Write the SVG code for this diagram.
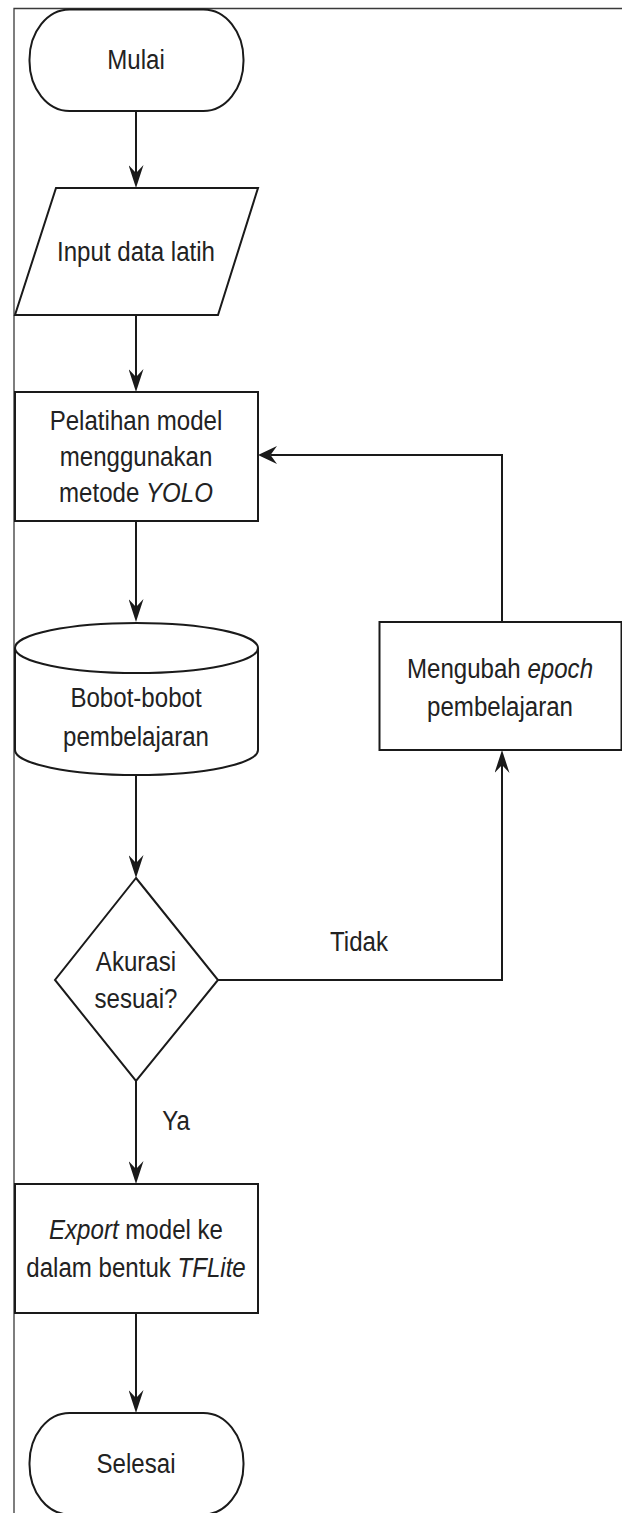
<svg xmlns="http://www.w3.org/2000/svg" width="622" height="1513" viewBox="0 0 622 1513">
<style>
.shape{fill:#ffffff;stroke:#1a1a1a;stroke-width:2}
.conn{fill:none;stroke:#1a1a1a;stroke-width:2}
.frame{fill:none;stroke:#3a3a3a;stroke-width:1.3}
.t{font-family:"Liberation Sans",Arial,Helvetica,sans-serif;font-size:28px;fill:#222222;text-anchor:middle}
.i{font-style:italic}
</style>
<defs>
<marker id="arrV" markerUnits="userSpaceOnUse" viewBox="0 0 23 15" markerWidth="23" markerHeight="15" refX="8" refY="7.5" orient="auto">
<path d="M23,7.5 L0,0 L8,7.5 L0,15 Z" fill="#1a1a1a"/>
</marker>
<marker id="arrH" markerUnits="userSpaceOnUse" viewBox="0 0 19 18" markerWidth="19" markerHeight="18" refX="6.5" refY="9" orient="auto">
<path d="M19,9 L0,0 L6.5,9 L0,18 Z" fill="#1a1a1a"/>
</marker>
</defs>
<rect width="622" height="1513" fill="#ffffff"/>
<path class="frame" d="M14,1513 V8.5 H622"/>
<g id="connectors">
<path class="conn" d="M136,111 V173" marker-end="url(#arrV)"/>
<path class="conn" d="M136,315 V377" marker-end="url(#arrV)"/>
<path class="conn" d="M136,521 V607" marker-end="url(#arrV)"/>
<path class="conn" d="M136,775 V863" marker-end="url(#arrV)"/>
<path class="conn" d="M136,1081 V1169" marker-end="url(#arrV)"/>
<path class="conn" d="M136,1313 V1398" marker-end="url(#arrV)"/>
<path class="conn" d="M218,980 H502 V765" marker-end="url(#arrV)"/>
<path class="conn" d="M502,622 V455 H270.5" marker-end="url(#arrH)"/>
<text class="t" transform="translate(359,0) scale(0.86,1)" x="0" y="951">Tidak</text>
<text class="t" transform="translate(176,0) scale(0.86,1)" x="0" y="1130">Ya</text>
</g>
<g id="mulai">
<rect class="shape" x="29.5" y="9.5" width="214" height="101.5" rx="40" ry="50"/>
<text class="t" transform="translate(136,0) scale(0.86,1)" x="0" y="69.5">Mulai</text>
</g>
<g id="input">
<polygon class="shape" points="56,188 258,188 218,315 15,315"/>
<text class="t" transform="translate(136,0) scale(0.86,1)" x="0" y="261">Input data latih</text>
</g>
<g id="pelatihan">
<rect class="shape" x="15" y="392" width="243" height="129"/>
<text class="t" transform="translate(136,0) scale(0.86,1)"><tspan x="0" y="430">Pelatihan model</tspan><tspan x="0" y="466">menggunakan</tspan><tspan x="0" y="502">metode <tspan class="i">YOLO</tspan></tspan></text>
</g>
<g id="bobot">
<path class="shape" d="M15,648 A121.5,25 0 0 1 258,648 V750 A121.5,25 0 0 1 15,750 Z"/>
<path class="shape" fill="none" d="M15,648 A121.5,25 0 0 0 258,648"/>
<text class="t" transform="translate(136,0) scale(0.86,1)"><tspan x="0" y="707.5">Bobot-bobot</tspan><tspan x="0" y="746">pembelajaran</tspan></text>
</g>
<g id="mengubah">
<rect class="shape" x="379.5" y="622" width="242" height="128"/>
<text class="t" transform="translate(500,0) scale(0.86,1)"><tspan x="0" y="678.5">Mengubah <tspan class="i">epoch</tspan></tspan><tspan x="0" y="716.5">pembelajaran</tspan></text>
</g>
<g id="akurasi">
<polygon class="shape" points="136,878 218,980 136,1081 55,980"/>
<text class="t" transform="translate(136,0) scale(0.86,1)"><tspan x="0" y="971.5">Akurasi</tspan><tspan x="0" y="1008.5">sesuai?</tspan></text>
</g>
<g id="export">
<rect class="shape" x="15" y="1184" width="243" height="129"/>
<text class="t" transform="translate(136,0) scale(0.86,1)"><tspan x="0" y="1239.5"><tspan class="i">Export</tspan> model ke</tspan><tspan x="0" y="1277.5">dalam bentuk <tspan class="i">TFLite</tspan></tspan></text>
</g>
<g id="selesai">
<rect class="shape" x="29.5" y="1413" width="214" height="101.5" rx="40" ry="50"/>
<text class="t" transform="translate(136,0) scale(0.86,1)" x="0" y="1473.5">Selesai</text>
</g>
</svg>
